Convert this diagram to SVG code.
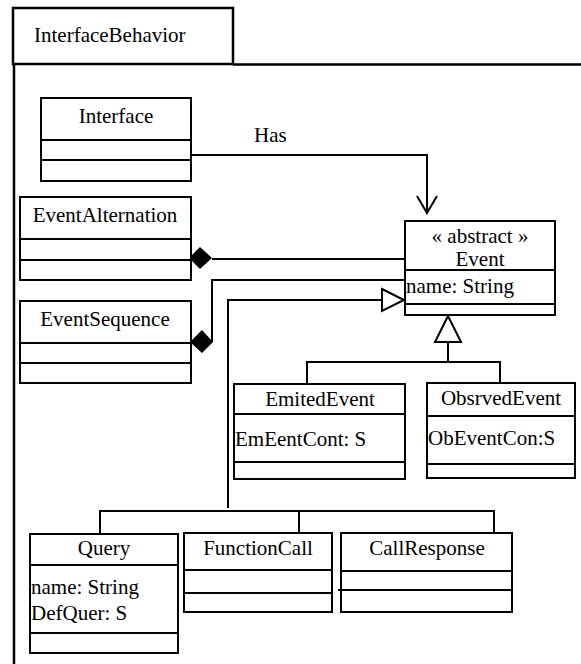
<svg xmlns="http://www.w3.org/2000/svg" width="581" height="664" viewBox="0 0 581 664" font-family="Liberation Serif, Times New Roman, DejaVu Serif, serif" font-size="21">
<style>
.box{fill:#fff;stroke:#000;stroke-width:2}
.ln{fill:none;stroke:#000;stroke-width:2}
.c{text-anchor:middle}
</style>
<rect width="581" height="664" fill="#fff"/>
<g id="frame">
<rect x="13" y="8" width="220" height="56" fill="#fff" stroke="#000" stroke-width="2.5"/>
<path d="M233 64.5H581M14 64V664" fill="none" stroke="#000" stroke-width="2.5"/>
<text x="34" y="42">InterfaceBehavior</text>
</g>
<g id="connectors">
<path class="ln" d="M191 155H427V212"/>
<path class="ln" d="M417 196L427 213L437 196"/>
<text x="254" y="142">Has</text>
<path class="ln" d="M212 259H405"/>
<path d="M189 258L200 247L212 258L200 269Z" fill="#000"/>
<path class="ln" d="M212 342V280H405"/>
<path d="M190 342L202 330L213 342L202 353Z" fill="#000"/>
<path class="ln" d="M228 508V300H382"/>
<path class="box" d="M382 289L404 300L382 311Z"/>
<path class="ln" d="M100 533V511H494V533M299 511V533"/>
<path class="ln" d="M448 342V362M307 383V362H500V383"/>
<path class="box" d="M448 316L435 342H461Z"/>
</g>
<g id="Interface">
<rect class="box" x="41" y="98" width="150" height="83"/>
<path class="ln" d="M41 140H191M41 160H191"/>
<text class="c" x="116" y="123">Interface</text>
</g>
<g id="EventAlternation">
<rect class="box" x="20" y="197" width="171" height="83"/>
<path class="ln" d="M20 239H191M20 260H191"/>
<text class="c" x="105" y="222">EventAlternation</text>
</g>
<g id="EventSequence">
<rect class="box" x="20" y="301" width="171" height="82"/>
<path class="ln" d="M20 343H191M20 363H191"/>
<text class="c" x="105" y="326">EventSequence</text>
</g>
<g id="Event">
<rect class="box" x="405" y="221" width="150" height="94"/>
<path class="ln" d="M405 270H555M405 304H555"/>
<text class="c" x="480" y="243">« abstract »</text>
<text class="c" x="480" y="266">Event</text>
<text x="406" y="293">name: String</text>
</g>
<g id="EmitedEvent">
<rect class="box" x="234" y="384" width="171" height="95"/>
<path class="ln" d="M234 414H405M234 462H405"/>
<text class="c" x="320" y="406">EmitedEvent</text>
<text x="235" y="446">EmEentCont: S</text>
</g>
<g id="ObsrvedEvent">
<rect class="box" x="427" y="383" width="148" height="95"/>
<path class="ln" d="M427 416H575M427 464H575"/>
<text class="c" x="501" y="405">ObsrvedEvent</text>
<text x="428" y="445">ObEventCon:S</text>
</g>
<g id="Query">
<rect class="box" x="30" y="534" width="148" height="119"/>
<path class="ln" d="M30 565H178M30 633H178"/>
<text class="c" x="104" y="555">Query</text>
<text x="31" y="594">name: String</text>
<text x="31" y="620">DefQuer: S</text>
</g>
<g id="FunctionCall">
<rect class="box" x="184" y="533" width="148" height="79"/>
<path class="ln" d="M184 570H332M184 593H332"/>
<text class="c" x="258" y="555">FunctionCall</text>
</g>
<g id="CallResponse">
<rect class="box" x="341" y="533" width="171" height="79"/>
<path class="ln" d="M341 571H512M338 590H512"/>
<text class="c" x="427" y="555">CallResponse</text>
</g>
</svg>
